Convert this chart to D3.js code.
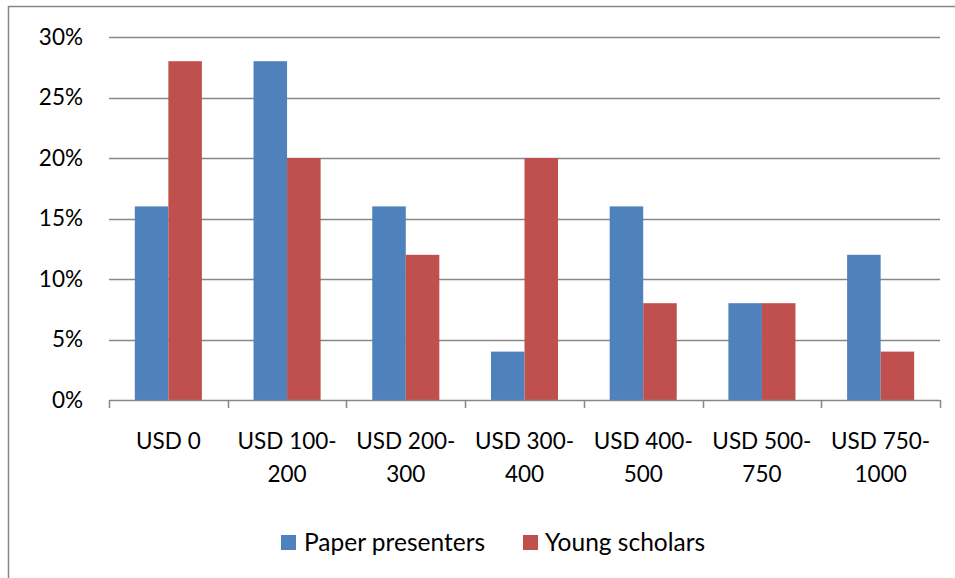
<!DOCTYPE html>
<html>
<head>
<meta charset="utf-8">
<script src="https://cdn.jsdelivr.net/npm/d3@7"></script>
<style>
body { margin: 0; background: white; }
</style>
</head>
<body>
<script>

// Data
var categories = [["USD 0"], ["USD 100-", "200"], ["USD 200-", "300"], ["USD 300-", "400"], ["USD 400-", "500"], ["USD 500-", "750"], ["USD 750-", "1000"]];
var seriesNames = ["Paper presenters", "Young scholars"];
var paperPresenters = [16, 28, 16, 4, 16, 8, 12];
var youngScholars = [28, 20, 12, 20, 8, 8, 4];
var yTicks = [0, 5, 10, 15, 20, 25, 30];

var width = 955, height = 578;
var colors = ["#4F81BD", "#C0504D"];
var fontFamily = "Lato, 'Open Sans', sans-serif";
var axisFontSize = 22.5;
var legendFontSize = 24.5;

var svg = d3.select("body").append("svg")
	.attr("width", width)
	.attr("height", height);

//****************************************************************************************************************************//
// Frame

svg.append("rect")
	.attr("x", 8.5)
	.attr("y", 6.5)
	.attr("width", 960)
	.attr("height", 600)
	.attr("fill", "white")
	.attr("stroke", "#868686")
	.attr("stroke-width", 1.5);

//****************************************************************************************************************************//
// Scales

var plot = { left: 109, right: 940, top: 37, bottom: 400 };
var catKeys = categories.map(function(c){ return c.join(" "); });

var x0 = d3.scaleBand().domain(catKeys).range([plot.left, plot.right]).padding(0);
var x1 = d3.scaleBand().domain(seriesNames).range([0, x0.bandwidth()]).paddingInner(0).paddingOuter(0.77);
var y = d3.scaleLinear().domain([0, 30]).range([plot.bottom, plot.top]);

//****************************************************************************************************************************//
// Grid and y labels

svg.append("g").selectAll("line")
	.data(yTicks.filter(function(d){ return d > 0; }))
	.enter().append("line")
	.attr("x1", plot.left)
	.attr("x2", plot.right)
	.attr("y1", function(d){ return Math.round(y(d)) + 0.5; })
	.attr("y2", function(d){ return Math.round(y(d)) + 0.5; })
	.attr("stroke", "#878787")
	.attr("stroke-width", 1.5);

svg.append("g").selectAll("text")
	.data(yTicks)
	.enter().append("text")
	.attr("x", 83)
	.attr("y", function(d){ return y(d) + 7.5; })
	.attr("text-anchor", "end")
	.style("font-family", fontFamily)
	.style("font-size", axisFontSize + "px")
	.attr("fill", "#000")
	.text(function(d){ return d + "%"; });

//****************************************************************************************************************************//
// Bars

var rows = catKeys.map(function(k, i){ return { key: k, values: [paperPresenters[i], youngScholars[i]] }; });

var groups = svg.append("g").selectAll("g")
	.data(rows)
	.enter().append("g")
	.attr("transform", function(d){ return "translate(" + x0(d.key) + ",0)"; });

groups.selectAll("rect")
	.data(function(d){ return d.values.map(function(v, j){ return { s: seriesNames[j], v: v, j: j }; }); })
	.enter().append("rect")
	.attr("x", function(d){ return x1(d.s); })
	.attr("y", function(d){ return y(d.v); })
	.attr("width", x1.bandwidth())
	.attr("height", function(d){ return plot.bottom - y(d.v); })
	.attr("fill", function(d){ return colors[d.j]; });

//****************************************************************************************************************************//
// X axis

svg.append("line")
	.attr("x1", plot.left)
	.attr("x2", plot.right)
	.attr("y1", plot.bottom + 0.5)
	.attr("y2", plot.bottom + 0.5)
	.attr("stroke", "#878787")
	.attr("stroke-width", 1.5);

var tickXs = catKeys.map(function(k){ return x0(k); }).concat([plot.right]);
svg.append("g").selectAll("line")
	.data(tickXs)
	.enter().append("line")
	.attr("x1", function(d){ return Math.round(d) + 0.5; })
	.attr("x2", function(d){ return Math.round(d) + 0.5; })
	.attr("y1", plot.bottom)
	.attr("y2", plot.bottom + 8)
	.attr("stroke", "#878787")
	.attr("stroke-width", 1.5);

var catLabels = svg.append("g").selectAll("text")
	.data(categories)
	.enter().append("text")
	.attr("text-anchor", "middle")
	.style("font-family", fontFamily)
	.style("font-size", axisFontSize + "px")
	.attr("fill", "#000");

catLabels.each(function(lines, i){
	var t = d3.select(this);
	var cx = x0(catKeys[i]) + x0.bandwidth() / 2;
	lines.forEach(function(line, k){
		t.append("tspan")
			.attr("x", cx)
			.attr("y", 449 + k * 33)
			.text(line);
	});
});

//****************************************************************************************************************************//
// Legend

var legendItems = [{ x: 281, tx: 304 }, { x: 523, tx: 545 }];
var legend = svg.append("g").selectAll("g")
	.data(seriesNames)
	.enter().append("g");

legend.append("rect")
	.attr("x", function(d, i){ return legendItems[i].x; })
	.attr("y", 535)
	.attr("width", 15)
	.attr("height", 15)
	.attr("fill", function(d, i){ return colors[i]; });

legend.append("text")
	.attr("x", function(d, i){ return legendItems[i].tx; })
	.attr("y", 551)
	.style("font-family", fontFamily)
	.style("font-size", legendFontSize + "px")
	.attr("fill", "#000")
	.text(function(d){ return d; });

</script>
</body>
</html>
